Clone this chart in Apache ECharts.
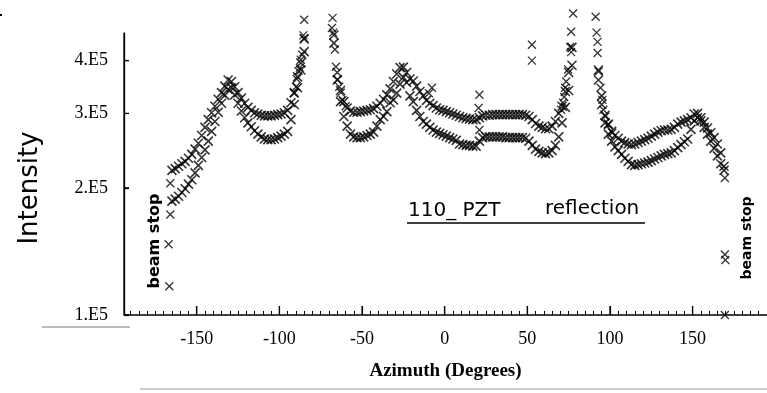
<!DOCTYPE html>
<html><head><meta charset="utf-8">
<script src="https://cdn.jsdelivr.net/npm/echarts@6/dist/echarts.min.js"></script>
<style>html,body{margin:0;padding:0;background:#fff}#c{width:767px;height:393px}</style>
</head><body><div id="c"></div>
<script>
// Intensity in units of 1E5, sampled every 2 degrees of azimuth from -165 to 169
const azimuthStart = -165;
const azimuthStep = 2;
const upperScan = [
  2.20, 2.22, 2.25, 2.28, 2.31, 2.35, 2.40, 2.47, 2.55, 2.66,   // -165 .. -147
  2.78, 2.90, 3.01, 3.12, 3.24, 3.36, 3.48, 3.60, 3.57, 3.47,   // -145 .. -127
  3.36, 3.26, 3.17, 3.10, 3.05, 3.01, 2.99, 2.97, 2.96, 2.96,   // -125 .. -107
  2.96, 2.97, 2.98, 2.99, 3.01, 3.05, 3.18, 3.36, 3.66, 3.95,   // -105 .. -87
  4.50,                                                         // -85
  null, null, null, null, null, null, null, null,               // -83 .. -69
  4.60, 3.75, 3.40, 3.20, 3.09, 3.04, 3.02, 3.02, 3.03, 3.04,   // -67 .. -49
  3.05, 3.06, 3.08, 3.12, 3.17, 3.24, 3.32, 3.43, 3.57, 3.72,   // -47 .. -29
  3.85, 3.86, 3.75, 3.62, 3.58, 3.48, 3.38, 3.30, 3.22, 3.17,   // -27 .. -9
  3.13, 3.09, 3.06, 3.05, 3.03, 3.01, 2.99, 2.97, 2.95, 2.93,   // -7 .. 11
  2.92, 2.91, 2.90, 2.90, 2.93, 2.96, 2.97, 2.97, 2.98, 2.98,   // 13 .. 31
  2.98, 2.98, 2.98, 2.98, 2.98, 2.98, 2.98, 2.98, 2.97, 2.95,   // 33 .. 51
  2.90, 2.84, 2.80, 2.78, 2.76, 2.76, 2.80, 2.87, 3.00, 3.12,   // 53 .. 71
  3.38, 3.75, 4.30,                                             // 73 .. 77
  null, null, null, null, null, null, null,                     // 79 .. 91
  3.80, 3.30, 2.97, 2.83, 2.72, 2.66, 2.62, 2.58, 2.56, 2.54,   // 93 .. 111
  2.53, 2.54, 2.56, 2.58, 2.60, 2.62, 2.65, 2.68, 2.71, 2.73,   // 113 .. 131
  2.74, 2.74, 2.75, 2.78, 2.83, 2.86, 2.88, 2.90, 2.93, 2.99,   // 133 .. 151
  3.00, 2.93, 2.86, 2.77, 2.70, 2.63, 2.54, 2.42, 2.25          // 153 .. 169
];
const lowerScan = [
  1.86, 1.88, 1.91, 1.95, 1.99, 2.04, 2.09, 2.17, 2.26, 2.36,   // -165 .. -147
  2.46, 2.58, 2.72, 2.87, 3.02, 3.17, 3.31, 3.42, 3.45, 3.32,   // -145 .. -127
  3.17, 3.04, 2.93, 2.85, 2.79, 2.73, 2.68, 2.64, 2.61, 2.60,   // -125 .. -107
  2.60, 2.61, 2.63, 2.65, 2.68, 2.72, 2.90, 3.15, 3.45, 3.80,   // -105 .. -87
  4.20,                                                         // -85
  null, null, null, null, null, null, null, null,               // -83 .. -69
  4.40, 3.60, 3.20, 2.95, 2.80, 2.68, 2.64, 2.63, 2.63, 2.64,   // -67 .. -49
  2.66, 2.68, 2.71, 2.80, 2.90, 2.95, 3.03, 3.18, 3.23, 3.35,   // -47 .. -29
  3.52, 3.65, 3.55, 3.30, 3.20, 3.05, 2.95, 2.87, 2.83, 2.78,   // -27 .. -9
  2.74, 2.71, 2.69, 2.67, 2.65, 2.63, 2.61, 2.59, 2.54, 2.53,   // -7 .. 11
  2.52, 2.52, 2.51, 2.51, 2.58, 2.63, 2.64, 2.64, 2.64, 2.64,   // 13 .. 31
  2.64, 2.64, 2.63, 2.63, 2.63, 2.63, 2.63, 2.63, 2.62, 2.58,   // 33 .. 51
  2.52, 2.47, 2.44, 2.42, 2.41, 2.42, 2.45, 2.52, 2.64, 2.85,   // 53 .. 71
  3.10, 3.40, 3.90,                                             // 73 .. 77
  null, null, null, null, null, null, null,                     // 79 .. 91
  3.60, 3.15, 2.85, 2.68, 2.58, 2.50, 2.45, 2.40, 2.35, 2.31,   // 93 .. 111
  2.27, 2.26, 2.27, 2.28, 2.29, 2.30, 2.32, 2.34, 2.36, 2.38,   // 113 .. 131
  2.40, 2.41, 2.42, 2.45, 2.49, 2.53, 2.57, 2.61, 2.75, 2.88,   // 133 .. 151
  2.93, 2.88, 2.78, 2.68, 2.58, 2.48, 2.38, 2.28, 2.20          // 153 .. 169
];
// isolated points on the steep flanks of the strong peaks
const flankAzimuth = [-91.1, -89.9, -89.5, -88.5, -87.6, -87.0, -86.1, -85.5, -85.0, -85.0,
  -67.8, -68.2, -67.4, -66.4, -65.8, -64.8, -63.8, -62.8, -61.8, -59.9,
  70.5, 71.7, 72.3, 72.9, 73.5, 74.7, 76.5, 75.9, 76.5, 77.7,
  91.3, 91.9, 92.5, 92.5, 93.1, 94.3, 95.4, 96.0, 97.2, 99.0, 101.4];
const flankIntensity = [3.35, 3.47, 3.62, 3.78, 3.85, 4.02, 4.13, 4.59, 4.52, 5.00,
  5.05, 4.78, 4.66, 4.25, 3.87, 3.61, 3.47, 3.36, 3.23, 3.12,
  3.06, 3.18, 3.28, 3.45, 3.57, 3.81, 4.19, 4.31, 4.68, 5.17,
  5.08, 4.66, 4.43, 4.17, 3.77, 3.45, 3.23, 3.06, 2.95, 2.82, 2.70];
const outlierAzimuth = [-9.5, -7.7, 21.0, 20.5, 21.0, 52.8, 52.8];
const outlierIntensity = [3.35, 3.45, 3.32, 3.09, 2.74, 4.36, 4.00];
const beamStopAzimuth = [-166.0, -166.0, -167.0, -166.6, 169.5, 169.5, 169.8, 169.5];
const beamStopIntensity = [2.05, 1.73, 1.47, 1.17, 2.11, 1.39, 1.35, 1.00];

const xLabelValues = [-150, -100, -50, 0, 50, 100, 150];
const yTickValues = [1, 2, 3, 4];
const yTickLabels = ['1.E5', '2.E5', '3.E5', '4.E5'];
const xMin = -194, xMax = 195, yMin = 1, yMax = 4.65;
const xMinorTicks = [];
for (let v = -190; v <= 195; v += 5) xMinorTicks.push(v);

const azimuth = upperScan.map((_, i) => azimuthStart + i * azimuthStep);
const pairs = (xs, ys) => xs.map((x, i) => [x, ys[i]]).filter(p => p[1] != null);

const cross = 'path://M0,0L10,10M10,0L0,10';
const bandStyle = {
  type: 'scatter', symbol: cross, symbolSize: 9, clip: false, silent: true,
  itemStyle: { color: 'transparent', borderColor: '#000', borderWidth: 1.6 }
};
const singleStyle = {
  type: 'scatter', symbol: cross, symbolSize: 8, clip: false, silent: true,
  itemStyle: { color: 'transparent', borderColor: '#000', borderWidth: 1.3 }
};
const handFont = '"DejaVu Sans"';
const gridBox = { left: 124, top: 33, right: -13, bottom: 78 };

const chart = echarts.init(document.getElementById('c'));
const annotations = [
  { type: 'text', x: 30, y: 188, rotation: Math.PI / 2,
    style: { text: 'Intensity', font: '26px ' + handFont, fill: '#000', align: 'center', verticalAlign: 'middle' } },
  { type: 'text', x: 155, y: 241, rotation: Math.PI / 2,
    style: { text: 'beam stop', font: 'bold 16px ' + handFont, fill: '#000', align: 'center', verticalAlign: 'middle' } },
  { type: 'text', x: 747, y: 238, rotation: Math.PI / 2,
    style: { text: 'beam stop', font: 'bold 14px ' + handFont, fill: '#000', align: 'center', verticalAlign: 'middle' } },
  { type: 'text', x: 408, y: 211,
    style: { text: '110_ PZT', font: '20px ' + handFont, fill: '#000', align: 'left', verticalAlign: 'middle' } },
  { type: 'text', x: 545, y: 209,
    style: { text: 'reflection', font: '20px ' + handFont, fill: '#000', align: 'left', verticalAlign: 'middle' } },
  { type: 'line', shape: { x1: 407, y1: 223, x2: 645, y2: 223 }, style: { stroke: '#000', lineWidth: 1.5 } },
  { type: 'line', shape: { x1: 42, y1: 327, x2: 130, y2: 327 }, style: { stroke: '#777', lineWidth: 1 } },
  { type: 'line', shape: { x1: 140, y1: 389, x2: 767, y2: 389 }, style: { stroke: '#999', lineWidth: 1 } },
  { type: 'rect', shape: { x: 0, y: 14, width: 2, height: 2 }, style: { fill: '#000' } }
];
chart.setOption({
  animation: false,
  grid: [Object.assign({}, gridBox), Object.assign({}, gridBox)],
  xAxis: [{
    type: 'value', gridIndex: 0, min: xMin, max: xMax, position: 'bottom',
    axisLine: { show: true, onZero: false, lineStyle: { color: '#000', width: 1.5 } },
    axisTick: { show: true, inside: true, length: 9, customValues: xLabelValues, lineStyle: { color: '#000', width: 1.2 } },
    axisLabel: { customValues: xLabelValues, formatter: v => String(Math.round(v)), color: '#000',
      fontFamily: 'Liberation Serif', fontSize: 18, margin: 15 },
    splitLine: { show: false },
    name: 'Azimuth (Degrees)', nameLocation: 'middle', nameGap: 47,
    nameTextStyle: { color: '#000', fontFamily: 'Liberation Serif', fontWeight: 'bold', fontSize: 19 }
  }, {
    type: 'value', gridIndex: 1, min: xMin, max: xMax, position: 'bottom',
    axisLine: { show: false, onZero: false },
    axisTick: { show: true, inside: true, length: 4, customValues: xMinorTicks, lineStyle: { color: '#000', width: 1 } },
    axisLabel: { show: false }, splitLine: { show: false }
  }],
  yAxis: [{
    type: 'log', gridIndex: 0, min: yMin, max: yMax, position: 'left',
    axisLine: { show: true, onZero: false, lineStyle: { color: '#000', width: 1.3 } },
    axisTick: { show: true, inside: true, length: 5, customValues: yTickValues, lineStyle: { color: '#000', width: 1.2 } },
    axisLabel: { customValues: yTickValues, color: '#000', fontFamily: 'Liberation Serif', fontSize: 18, margin: 16,
      formatter: v => yTickLabels[yTickValues.indexOf(Math.round(v))] || '' },
    splitLine: { show: false }
  }, {
    type: 'log', gridIndex: 1, min: yMin, max: yMax, show: false
  }],
  series: [
    Object.assign({ name: 'scan 1', data: pairs(azimuth, upperScan) }, bandStyle),
    Object.assign({ name: 'scan 2', data: pairs(azimuth, lowerScan) }, bandStyle),
    Object.assign({ name: 'peak flanks', data: pairs(flankAzimuth, flankIntensity) }, singleStyle),
    Object.assign({ name: 'outliers', data: pairs(outlierAzimuth, outlierIntensity) }, singleStyle),
    Object.assign({ name: 'beam stop', data: pairs(beamStopAzimuth, beamStopIntensity) }, singleStyle)
  ],
  graphic: annotations
});

// Axis frame strokes placed through the chart's own scales (vertical axis line, its ticks, major azimuth ticks)
const px = (x, y) => chart.convertToPixel({ gridIndex: 0 }, [x, y]);
const axisTop = px(xMin, yMax), axisBottom = px(xMin, yMin);
const frame = [{ type: 'line', z: 50, shape: { x1: axisTop[0], y1: axisTop[1], x2: axisBottom[0], y2: axisBottom[1] },
  style: { stroke: '#000', lineWidth: 1.3 } }];
yTickValues.forEach(v => {
  const p = px(xMin, v);
  frame.push({ type: 'line', z: 50, shape: { x1: p[0], y1: p[1], x2: p[0] + 5, y2: p[1] }, style: { stroke: '#000', lineWidth: 1.2 } });
});
xLabelValues.forEach(v => {
  const p = px(v, yMin);
  frame.push({ type: 'line', z: 50, shape: { x1: p[0], y1: p[1], x2: p[0], y2: p[1] - 9 }, style: { stroke: '#000', lineWidth: 1.2 } });
});
chart.setOption({ graphic: annotations.concat(frame) });
</script></body></html>
